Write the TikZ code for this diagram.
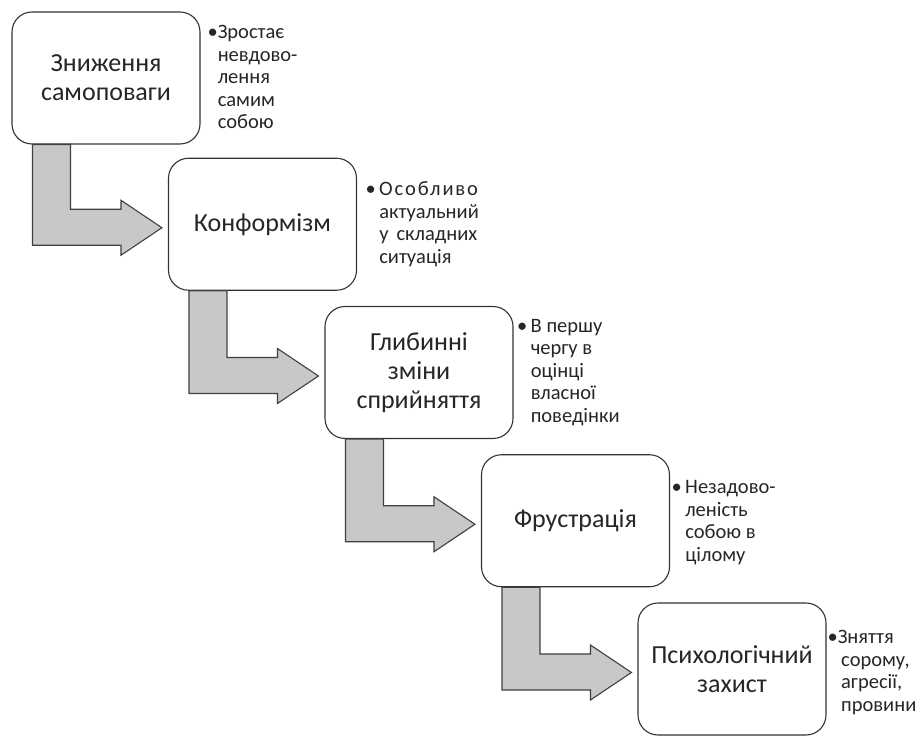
\documentclass[tikz,border=0pt]{standalone}
\usepackage{fontspec}
\setmainfont{Carlito}
\usepackage{tikz}
\usetikzlibrary{positioning}
\usetikzlibrary{calc}

\definecolor{arrowgray}{RGB}{200,200,200}
\definecolor{textgray}{RGB}{38,38,38}

\begin{document}
\begin{tikzpicture}[x=1pt, y=1pt,
        stage/.style={rectangle, rounded corners=20pt, draw=black!80, fill=white, line width=1.1pt, minimum width=188pt, minimum height=132pt, align=center, text=textgray, font=\fontsize{26}{29}\selectfont},
        note/.style={align=left, inner sep=0pt, text=textgray, font=\fontsize{20.5}{22.5}\selectfont},
        bentarrow/.style={draw=black!75, fill=arrowgray, line width=1.1pt, line join=miter}
      ]
        \useasboundingbox (0,0) rectangle (915,736);

        \node[stage]  (b1)  at(106, 658)       {Зниження\\самоповаги};
        \node[stage]  (b2)  at(262.5, 511.75)  {Конформізм};
        \node[stage]  (b3)  at(419, 363.5)     {Глибинні\\зміни\\сприйняття};
        \node[stage]  (b4)  at(575.5, 215.25)  {Фрустрація};
        \node[stage]  (b5)  at(732, 67)        {Психологічний\\захист};

        \node[note]  (n1)  [right=17pt of b1.north east, anchor=north west, yshift=-14pt]  {\llap{\textbullet}Зростає\\невдово-\\лення\\самим\\собою};
        \node[note]  (n2)  [right=22pt of b2.north east, anchor=north west, yshift=-24pt]  {\llap{\textbullet\,}{\addfontfeature{LetterSpace=9}Особливо}\\актуальний\\у\hspace{8pt}складних\\ситуація};
        \node[note]  (n3)  [right=17pt of b3.north east, anchor=north west, yshift=-13pt]  {\llap{\textbullet\,}В першу\\чергу в\\оцінці\\власної\\поведінки};
        \node[note]  (n4)  [right=15pt of b4.north east, anchor=north west, yshift=-26pt]  {\llap{\textbullet\,}Незадово-\\леність\\собою в\\цілому};
        \node[note]  (n5)  [right=11pt of b5.north east, anchor=north west, yshift=-28pt]  {\llap{\textbullet}Зняття\\\,сорому,\\\,агресії,\\\,провини};

        \foreach \i/\j in {1/2, 2/3, 3/4, 4/5}
          \draw[bentarrow]  ($(b\i.south west)+(21,0)$) -- ($(b\i.south west)+(59,0)$) |- ($(b\j.west)+(-47,15)$) -- ++(0,9) -- ($(b\j.west)+(-6,-3.5)$) -- ($(b\j.west)+(-47,-31)$) -- ++(0,10) -| ($(b\i.south west)+(21,0)$) -- cycle;
      \end{tikzpicture}
\end{document}
